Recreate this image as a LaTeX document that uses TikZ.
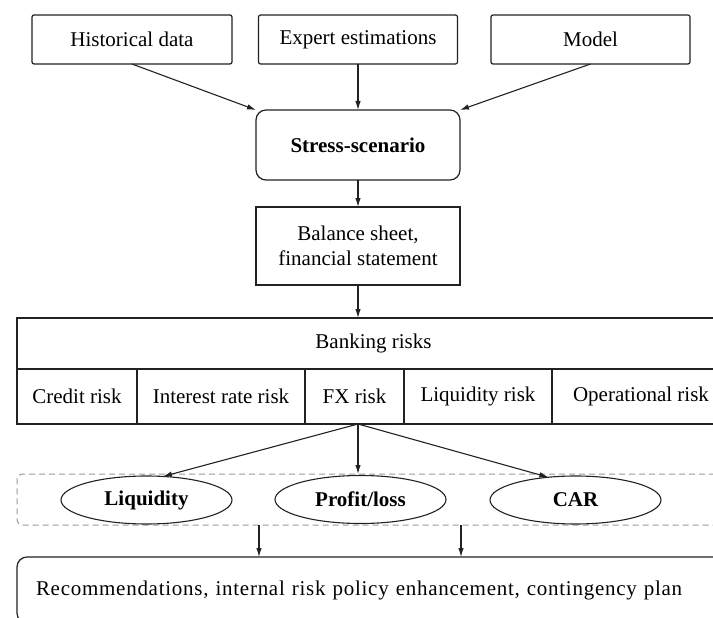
\documentclass[tikz,border=0pt]{standalone}
\usepackage{fontspec}
\setmainfont{Liberation Serif}
\usetikzlibrary{arrows.meta,shapes.geometric,calc}
\definecolor{ink}{HTML}{222222}
\definecolor{dash}{HTML}{999999}
\begin{document}
\begin{tikzpicture}[x=1pt,y=-1pt,
  txt/.style={font=\fontsize{21}{25}\selectfont},
  box/.style={txt,draw=ink,line width=1.2pt,rectangle,inner sep=0pt,outer sep=0pt,align=center},
  srcbox/.style={box,rounded corners=2pt},
  roundbox/.style={box,rounded corners=10pt},
  cell/.style={box},
  oval/.style={txt,font=\fontsize{21}{25}\selectfont\bfseries,draw=ink,line width=1.1pt,ellipse,
    inner sep=0pt,outer sep=0pt,minimum width=171pt,minimum height=48pt},
  arr/.style={draw=ink,line width=1.1pt,-{Latex[length=9pt,width=5.5pt]}}]
\useasboundingbox (0,0) rectangle (713,618);
\clip (0,0) rectangle (713,618);

% sources of the scenario
\node[srcbox,minimum width=200pt,minimum height=49pt] (hist) at (132,39.5) {Historical data};
\node[srcbox,minimum width=199pt,minimum height=49pt] (expert) at (358,39.5) {Expert estimations};
\node[srcbox,minimum width=199pt,minimum height=49pt] (model) at (590.5,39.5) {Model};

% scenario and statements
\node[roundbox,minimum width=204pt,minimum height=70pt,font=\fontsize{21}{25}\selectfont\bfseries] (stress) at (358,145) {Stress-scenario};
\node[box,minimum width=204pt,minimum height=78pt] (bal) at (358,246) {Balance sheet,\\financial statement};

% risk table
\node[box,minimum width=713pt,minimum height=51pt] (banking) at (373.5,343.5) {Banking risks};
\node[cell,minimum width=120pt,minimum height=55pt] (credit) at (77,396.5) {Credit risk};
\node[cell,minimum width=168pt,minimum height=55pt] (interest) at (221,396.5) {Interest rate risk};
\node[cell,minimum width=99pt,minimum height=55pt] (fx) at (354.5,396.5) {FX risk};
\node[cell,minimum width=148pt,minimum height=55pt] (liqrisk) at (478,396.5) {Liquidity risk};
\node[cell,minimum width=178pt,minimum height=55pt] (oper) at (641,396.5) {Operational risk};
\draw[draw=ink,line width=2.4pt] (fx.north east) -- (fx.south east);

% outcome group
\node[draw=dash,dashed,dash pattern=on 6pt off 4pt,line width=1pt,rounded corners=5pt,
  minimum width=713pt,minimum height=51pt,inner sep=0pt,outer sep=0pt] (grp) at (373.5,499.5) {};
\node[oval] (liq) at (146.5,500) {Liquidity};
\node[oval] (pl) at (360.5,499.5) {Profit/loss};
\node[oval] (car) at (575.5,500) {CAR};

% final recommendations
\node[roundbox,minimum width=713pt,minimum height=66pt,text width=675pt,inner xsep=19pt,align=left,
  font=\fontsize{21}{25}\selectfont\addfontfeature{LetterSpace=3.5}] (rec) at (373.5,590)
  {Recommendations, internal risk policy enhancement, contingency plan};

% connectors
\draw[arr] (hist.south) -- (stress.north west);
\draw[arr] (expert.south) -- (stress.north);
\draw[arr] (model.south) -- (stress.north east);
\draw[arr] (stress.south) -- (bal.north);
\draw[arr] (bal.south) -- (bal.south |- banking.north);
\coordinate (split) at (fx.south -| bal.south);
\draw[arr] (split) -- (liq.55);
\draw[arr] (split) -- (split |- grp.north);
\draw[arr] (split) -- (car.140);
\coordinate (a1) at (259,0);
\coordinate (a2) at (461,0);
\draw[arr] (grp.south -| a1) -- (rec.north -| a1);
\draw[arr] (grp.south -| a2) -- (rec.north -| a2);
\end{tikzpicture}
\end{document}
